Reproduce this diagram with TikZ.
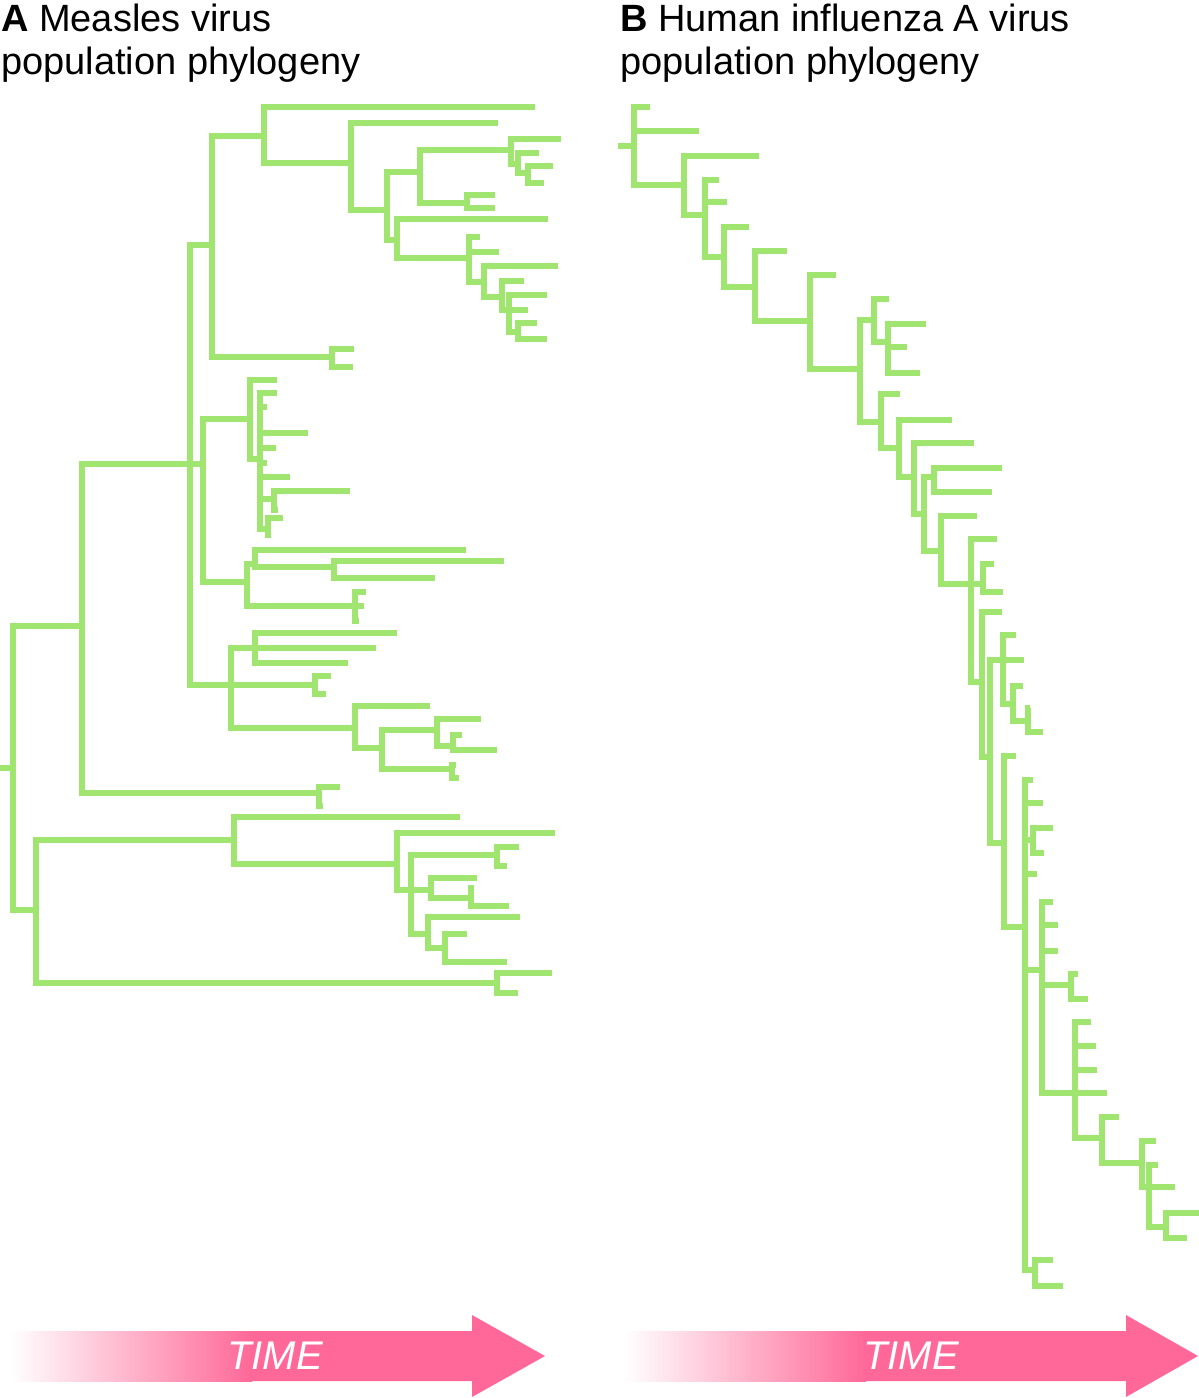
\documentclass[tikz,border=0pt]{standalone}
\usepackage{fontspec}
\setmainfont{Liberation Sans}
\definecolor{treegreen}{RGB}{160,229,112}
\definecolor{timepink}{RGB}{255,104,152}
\newcommand\brk[5]{\draw[tree] (#3,#2) -- (#1,#2) -- (#1,#4) -- (#5,#4);}
\newcommand\hseg[3]{\draw[tree] (#1,#2) -- (#3,#2);}
\tikzset{
  tree/.style={draw=treegreen, line width=5.5pt, line join=miter, line cap=butt},
  title/.style={anchor=base west, inner sep=0pt, font=\fontsize{38}{38}\selectfont},
  timelabel/.style={text=white, inner sep=0pt, font=\fontsize{40}{40}\selectfont\itshape},
}
\begin{document}
\begin{tikzpicture}[x=1pt,y=-1pt]
\useasboundingbox (0,0) rectangle (1199,1398);
% titles
\node[title] (tA1) at (1,31) {\textbf{A} Measles virus};
\node[title] (tA2) at (1,74) {population phylogeny};
\node[title] (tB1) at (620,31) {\textbf{B} Human influenza A virus};
\node[title] (tB2) at (620,74) {population phylogeny};
% ---------------- Tree A ----------------
\hseg{0}{768}{13}
\brk{13}{626}{82}{910}{36}
\brk{82}{464}{190}{793}{319}
\brk{319}{787}{340}{806}{323}
\brk{190}{245}{212}{685}{231}
\hseg{190}{464}{203}
\brk{212}{136}{264}{357}{332}
\brk{264}{107}{535}{163}{351}
\brk{351}{123}{498}{210}{387}
\brk{387}{172}{420}{240}{397}
\brk{420}{150}{511}{203}{467}
\brk{511}{139}{561}{164}{518}
\brk{518}{153}{539}{173}{528}
\brk{528}{166}{553}{183}{544}
\brk{467}{195}{495}{208}{495}
\brk{397}{219}{548}{258}{469}
\brk{469}{237}{480}{282}{484}
\hseg{469}{252}{499}
\brk{484}{266}{558}{297}{502}
\brk{502}{281}{524}{310}{528}
\brk{509}{295}{547}{332}{518}
\brk{518}{323}{537}{339}{547}
\brk{332}{349}{354}{367}{353}
\brk{203}{419}{250}{582}{247}
\brk{250}{380}{277}{459}{260}
\brk{260}{393}{277}{529}{268}
\hseg{260}{407}{267}
\hseg{260}{433}{308}
\hseg{260}{448}{276}
\hseg{260}{463}{267}
\hseg{260}{477}{290}
\hseg{260}{499}{274}
\brk{274}{491}{350}{510}{278}
\brk{268}{518}{283}{535}{271}
\brk{247}{564}{255}{606}{355}
\brk{255}{550}{466}{567}{334}
\brk{334}{561}{504}{578}{435}
\brk{355}{592}{366}{621}{359}
\hseg{355}{606}{364}
\brk{231}{648}{255}{728}{355}
\hseg{231}{685}{315}
\brk{255}{633}{397}{663}{348}
\hseg{255}{648}{376}
\brk{315}{676}{331}{694}{326}
\brk{355}{706}{430}{748}{382}
\brk{382}{730}{437}{769}{452}
\brk{437}{719}{481}{746}{453}
\brk{453}{735}{462}{750}{497}
\brk{452}{765}{456}{778}{459}
\brk{36}{840}{234}{983}{497}
\brk{234}{817}{460}{864}{397}
\brk{397}{833}{555}{890}{411}
\hseg{411}{890}{431}
\brk{411}{855}{497}{934}{428}
\brk{497}{847}{519}{866}{507}
\brk{431}{878}{477}{898}{471}
\brk{471}{888}{474}{906}{509}
\brk{428}{917}{520}{948}{445}
\brk{445}{934}{467}{962}{507}
\brk{497}{973}{552}{993}{518}
% ---------------- Tree B ----------------
\hseg{618}{146}{634}
\brk{634}{107}{650}{185}{684}
\hseg{634}{131}{699}
\brk{684}{156}{759}{215}{705}
\brk{705}{180}{719}{257}{724}
\hseg{705}{202}{727}
\brk{724}{227}{749}{287}{755}
\brk{755}{251}{787}{321}{810}
\brk{810}{275}{836}{369}{860}
\brk{860}{320}{874}{422}{881}
\brk{874}{299}{889}{342}{888}
\brk{888}{324}{926}{373}{920}
\hseg{888}{347}{907}
\brk{881}{394}{900}{448}{899}
\brk{899}{420}{952}{477}{914}
\brk{914}{443}{974}{514}{924}
\brk{924}{477}{934}{551}{941}
\brk{934}{468}{1002}{492}{992}
\brk{941}{516}{977}{584}{971}
\brk{971}{539}{997}{682}{982}
\hseg{971}{584}{983}
\brk{983}{564}{994}{592}{1003}
\brk{982}{612}{1002}{757}{990}
\brk{990}{660}{1024}{843}{1004}
\brk{1003}{635}{1016}{704}{1013}
\brk{1013}{686}{1023}{721}{1028}
\brk{1028}{708}{1030}{732}{1043}
\brk{1004}{756}{1016}{927}{1025}
\brk{1025}{780}{1033}{1270}{1035}
\hseg{1025}{803}{1043}
\hseg{1025}{840}{1033}
\hseg{1025}{874}{1037}
\hseg{1025}{970}{1042}
\brk{1033}{828}{1053}{853}{1044}
\brk{1042}{902}{1053}{1093}{1107}
\hseg{1042}{925}{1058}
\hseg{1042}{951}{1058}
\hseg{1042}{985}{1071}
\brk{1071}{974}{1078}{999}{1088}
\brk{1075}{1022}{1091}{1138}{1102}
\hseg{1075}{1046}{1096}
\hseg{1075}{1070}{1097}
\brk{1102}{1117}{1119}{1163}{1142}
\brk{1142}{1141}{1156}{1187}{1175}
\brk{1149}{1165}{1158}{1227}{1166}
\brk{1166}{1213}{1199}{1238}{1187}
\brk{1035}{1260}{1053}{1286}{1063}
% ---------------- TIME arrows ----------------
\shade[left color=white, right color=timepink] (10,1331) rectangle (252,1381);
\fill[timepink] (250,1331) -- (472,1331) -- (472,1315) -- (545,1356) -- (472,1397) -- (472,1381) -- (250,1381) -- cycle;
\node[timelabel] (timeA) at (275,1356) {TIME};
\shade[left color=white, right color=timepink] (624,1331) rectangle (866,1381);
\fill[timepink] (864,1331) -- (1126,1331) -- (1126,1315) -- (1198,1356) -- (1126,1397) -- (1126,1381) -- (864,1381) -- cycle;
\node[timelabel] (timeB) at (911,1356) {TIME};
\end{tikzpicture}
\end{document}
